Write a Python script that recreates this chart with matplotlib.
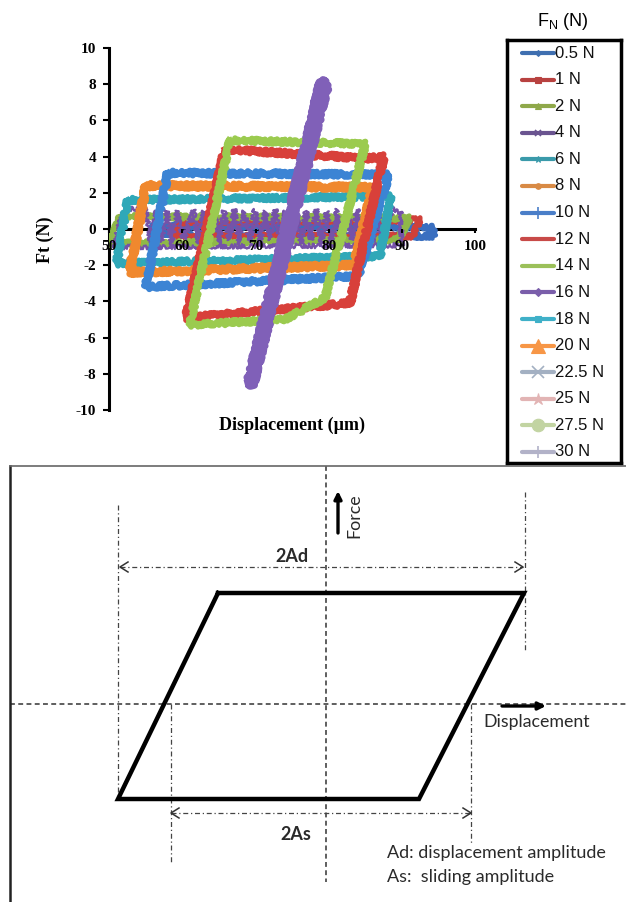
import matplotlib
matplotlib.use("Agg")
import matplotlib.pyplot as plt
from matplotlib.lines import Line2D

plt.rcParams['mathtext.fontset'] = 'custom'
plt.rcParams['mathtext.rm'] = 'Liberation Sans'
plt.rcParams['axes.unicode_minus'] = False

W, H, DPI = 626, 902, 100

# ---------------- fretting loops: displacement (µm) vs tangential force (N)
series_labels = ["0.5 N", "1 N", "2 N", "4 N", "6 N", "8 N", "10 N", "12 N",
                 "14 N", "16 N", "18 N", "20 N", "22.5 N", "25 N", "27.5 N", "30 N"]
legend_colors = ["#3f6fb0", "#b84240", "#8fa84a", "#6a5490", "#3a9aaa", "#d88a45",
                 "#4a7ec8", "#c84a48", "#9bc05a", "#7a5eaa", "#3fb0c8", "#f79646",
                 "#a3b0c2", "#e2b4b4", "#c2d4a2", "#b2b2c8"]
loop_colors = ["#3a6fc0", "#d0403a", "#8fb848", "#7552a8", "#30a8b8", "#f0882e",
               "#3c84d4", "#d8403a", "#9bcb4f", "#8060b8", "#3fb0c8", "#f79646",
               "#a3b0c2", "#e2b4b4", "#c2d4a2", "#b2b2c8"]
series_markers = ["D", "s", "^", "x", "*", "o", "+", "_", "_", "D", "s", "^",
                  "x", "*", "o", "+"]
marker_sizes = [3, 5, 4, 5, 5, 4, 9, 0, 0, 4, 5, 10, 9, 9, 9, 9]

# loop vertices for each normal load (displacement, tangential force)
disp_05 = [56.0, 94.3, 94.3, 90.5, 56.0, 56.0]
ft_05 = [0.2, 0.1, -0.4, -0.4, -0.3, 0.2]
disp_1 = [60.0, 92.5, 91.5, 59.0, 60.0]
ft_1 = [0.4, 0.5, -0.4, -0.4, 0.4]
disp_2 = [51.5, 91.0, 89.5, 50.0, 51.5]
ft_2 = [0.7, 0.6, -0.6, -0.8, 0.7]
disp_4 = [50.5, 52.0, 55.0, 55.7, 56.4, 57.1, 57.8, 58.5, 59.2, 60.2, 61.5, 62.2,
          62.9, 63.6, 64.3, 65.0, 65.7, 66.4, 67.1, 67.8, 68.5, 69.2, 69.9, 70.6,
          71.3, 72.0, 72.7, 73.4, 74.1, 74.8, 75.5, 76.2, 76.9, 77.6, 78.3, 79.0,
          79.7, 80.4, 81.1, 81.8, 82.5, 83.2, 83.9, 84.6, 85.3, 86.0, 86.7, 87.4,
          88.6, 89.8, 90.0, 50.5]
ft_4 = [-1.0, 1.1, 1.1, -0.8, 1.0, -0.7, 1.1, -0.8, 1.0, -0.6, 1.1, -0.8,
        1.0, -0.7, 1.1, -0.8, 1.0, -0.6, 1.1, -0.8, 1.0, -0.7, 1.1, -0.8,
        1.0, -0.6, 1.1, -0.8, 1.0, -0.7, 1.1, -0.8, 1.0, -0.6, 1.1, -0.8,
        1.0, -0.7, 1.1, -0.8, 1.0, -0.6, 1.1, -0.8, 1.0, -0.7, 1.1, -0.8,
        1.1, 1.0, -0.9, -1.0]
disp_6 = [52.5, 88.5, 87.0, 51.0, 52.5]
ft_6 = [1.6, 1.8, -1.5, -1.9, 1.6]
disp_8 = [55.0, 86.0, 83.5, 52.8, 55.0]
ft_8 = [2.4, 2.3, -2.0, -2.4, 2.4]
disp_10 = [58.0, 88.2, 84.0, 55.0, 58.0]
ft_10 = [3.1, 3.0, -2.6, -3.2, 3.1]
disp_12 = [65.8, 85.2, 87.5, 82.9, 60.5, 65.8]
ft_12 = [4.4, 3.9, 4.0, -4.1, -4.9, 4.4]
disp_14 = [66.5, 85.0, 79.5, 74.0, 61.0, 66.5]
ft_14 = [4.9, 4.7, -3.8, -5.0, -5.3, 4.9]
disp_16 = [69.0, 79.0, 79.8, 69.6, 69.0]
ft_16 = [-8.5, 8.2, 8.0, -8.6, -8.5]

loop_disp = [disp_05, disp_1, disp_2, disp_4, disp_6, disp_8, disp_10, disp_12,
             disp_14, disp_16, [], [], [], [], [], []]
loop_ft = [ft_05, ft_1, ft_2, ft_4, ft_6, ft_8, ft_10, ft_12,
           ft_14, ft_16, [], [], [], [], [], []]
loop_widths = [3.5, 3.5, 3.5, 1.6, 4.2, 5.0, 4.5, 4.6, 4.2, 5.5,
               3.0, 3.0, 3.0, 3.0, 3.0, 3.0]

x_ticks = [50, 60, 70, 80, 90, 100]
y_ticks = [-10, -8, -6, -4, -2, 0, 2, 4, 6, 8, 10]

# ---------------- schematic fretting loop (arbitrary units, origin at loop centre)
sch_loop_x = [-108, 198, 93, -208, -108]
sch_loop_y = [111, 111, -95, -95, 111]
outer_left_x, outer_left_y = -208, (199, -95)
outer_right_x, outer_right_y = 199, (212, 52)
inner_left_x, inner_left_y = -155, (0, -159)
inner_right_x, inner_right_y = 145, (0, -139)
centre_y_span = (238, -178)
ad_arrow_y, ad_arrow_x = 137, (-206, 197)
as_arrow_y, as_arrow_x = -109, (-155, 145)

serif = "Liberation Serif"
sans = "Liberation Sans"
calib = "Lato"

fig = plt.figure(figsize=(W / DPI, H / DPI), dpi=DPI)

# ---- loop chart
ax = fig.add_axes([109.3 / W, (H - 410) / H, (475 - 109.3) / W, (410 - 48) / H])
ax.set_xlim(50, 100)
ax.set_ylim(-10, 10)
for xs, ys, c, lw in zip(loop_disp, loop_ft, loop_colors, loop_widths):
    ln, = ax.plot(xs, ys, color=c, lw=lw, solid_joinstyle="round", zorder=2)
    ln.set_sketch_params(scale=2.4, length=2.5, randomness=3.0)

ax.spines["top"].set_visible(False)
ax.spines["right"].set_visible(False)
ax.spines["bottom"].set_position(("data", 0))
for s in ("left", "bottom"):
    ax.spines[s].set_linewidth(2.2)
    ax.spines[s].set_zorder(1)
ax.set_axisbelow(False)
ax.set_xticks(x_ticks)
ax.set_yticks(y_ticks)
ax.tick_params(axis="x", direction="out", length=3, width=1.5, pad=5)
ax.tick_params(axis="y", direction="out", length=4.5, width=1.5, pad=5)
for lab in ax.get_xticklabels() + ax.get_yticklabels():
    lab.set_fontfamily(serif)
    lab.set_fontweight("bold")
    lab.set_fontsize(11)
ax.patch.set_alpha(0)

fig.text(45 / W, 1 - 240 / H, "Ft (N)", rotation=90, ha="center", va="center",
         fontfamily=serif, fontweight="bold", fontsize=13)
fig.text(292 / W, 1 - 425 / H, "Displacement (µm)", ha="center", va="center",
         fontfamily=serif, fontweight="bold", fontsize=13)

# ---- legend
fig.text(563 / W, 1 - 22 / H, r"F$_{\mathrm{N}}$ (N)", ha="center", va="center",
         fontfamily=sans, fontsize=13)
lax = fig.add_axes([507 / W, 1 - 463 / H, 114 / W, 423 / H])
lax.set_xlim(0, 114)
lax.set_ylim(423, 0)
lax.set_xticks([])
lax.set_yticks([])
for s in lax.spines.values():
    s.set_linewidth(2.5)
    s.set_color("black")
row0, row_step = 13, 26.6
for i, (lab, c, m, ms) in enumerate(zip(series_labels, legend_colors,
                                         series_markers, marker_sizes)):
    yy = row0 + i * row_step
    lax.add_line(Line2D([15, 47], [yy, yy], color=c, lw=3, solid_capstyle="round"))
    if ms > 0:
        lax.add_line(Line2D([31], [yy], color=c, marker=m, markersize=ms,
                            markeredgewidth=1.2 if m in "x+" else 0.8,
                            markeredgecolor=c, markerfacecolor=c))
    lax.text(48, yy, lab, ha="left", va="center", fontfamily=sans, fontsize=12,
             color="#111111")

# ---- schematic panel
sax = fig.add_axes([10 / W, 0, (W - 10) / W, (H - 466) / H])
sax.set_xlim(-316, 300)
sax.set_ylim(-198, 238)
sax.set_xticks([])
sax.set_yticks([])
sax.spines["right"].set_visible(False)
sax.spines["bottom"].set_visible(False)
sax.spines["left"].set_linewidth(1.8)
sax.spines["left"].set_color("#222222")
sax.spines["top"].set_linewidth(1.2)
sax.spines["top"].set_color("#666666")

dash = dict(color="#333333", lw=1.1, linestyle=(0, (3.2, 2.2)))
dashdot = dict(color="#444444", lw=0.9, linestyle=(0, (4.0, 2.2, 1.0, 2.2)))

sax.plot([-316, 300], [0, 0], **dash)
sax.plot([0, 0], centre_y_span, **dash)
sax.plot([outer_left_x] * 2, outer_left_y, **dashdot)
sax.plot([outer_right_x] * 2, outer_right_y, **dashdot)
sax.plot([inner_left_x] * 2, inner_left_y, **dashdot)
sax.plot([inner_right_x] * 2, inner_right_y, **dashdot)

for yv, (xa, xb) in ((ad_arrow_y, ad_arrow_x), (as_arrow_y, as_arrow_x)):
    sax.plot([xa, xb], [yv, yv], **dashdot)
    sax.plot([xa + 8, xa, xa + 8], [yv + 5, yv, yv - 5], color="#333333", lw=1.1)
    sax.plot([xb - 8, xb, xb - 8], [yv + 5, yv, yv - 5], color="#333333", lw=1.1)

sax.plot(sch_loop_x, sch_loop_y, color="black", lw=3.2, solid_joinstyle="miter")

sax.annotate("", xy=(12, 213), xytext=(12, 171),
             arrowprops=dict(arrowstyle="-|>", lw=2.4, color="black",
                             mutation_scale=11, shrinkA=0, shrinkB=0))
sax.annotate("", xy=(220, -2), xytext=(176, -2),
             arrowprops=dict(arrowstyle="-|>", lw=2.4, color="black",
                             mutation_scale=11, shrinkA=0, shrinkB=0))

txt = "#2a2a2a"
sax.text(28, 188, "Force", rotation=90, ha="center", va="center",
         fontfamily=calib, fontsize=12.8, color=txt)
sax.text(157, -18, "Displacement", ha="left", va="center",
         fontfamily=calib, fontsize=12.8, color=txt)
sax.text(-34, 148, "2Ad", ha="center", va="center", fontfamily=calib,
         fontweight="bold", fontsize=13, color=txt)
sax.text(-30, -131, "2As", ha="center", va="center", fontfamily=calib,
         fontweight="bold", fontsize=13, color=txt)
sax.text(61, -149, "Ad: displacement amplitude", ha="left", va="center",
         fontfamily=calib, fontsize=13, color=txt)
sax.text(61, -173, "As:  sliding amplitude", ha="left", va="center",
         fontfamily=calib, fontsize=13, color=txt)

fig.savefig("out.png", dpi=DPI)
